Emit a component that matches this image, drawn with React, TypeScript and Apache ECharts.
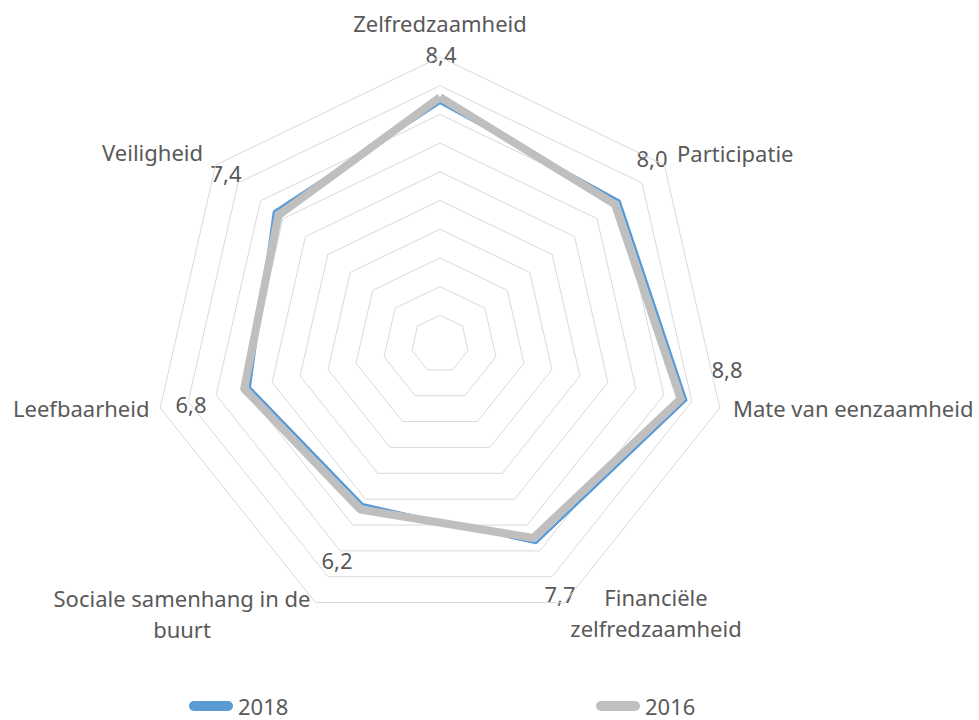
import React, { useEffect, useRef } from 'react';
import * as echarts from 'echarts';

// Categories in clockwise order starting at the top
const categories = [
  'Zelfredzaamheid',
  'Participatie',
  'Mate van eenzaamheid',
  'Financiële\nzelfredzaamheid',
  'Sociale samenhang in de\nbuurt',
  'Leefbaarheid',
  'Veiligheid',
];
const values2018 = [8.4, 8.0, 8.8, 7.7, 6.2, 6.8, 7.4];
const values2016 = [8.6, 7.8, 8.6, 7.5, 6.4, 7.0, 7.2];
const seriesNames = ['2018', '2016'];
const axisMax = 10;

// layout (positions of category names and value labels)
const nameLayout = [
  { x: 440, y: 23, align: 'center' },
  { x: 677, y: 153, align: 'left' },
  { x: 733, y: 408, align: 'left' },
  { x: 656, y: 612, align: 'center' },
  { x: 182, y: 613, align: 'center' },
  { x: 13, y: 408, align: 'left' },
  { x: 203, y: 152, align: 'right' },
];
const valueLayout = [
  { x: 441, y: 54 },
  { x: 652, y: 158 },
  { x: 727, y: 369 },
  { x: 560, y: 594 },
  { x: 337, y: 560 },
  { x: 191, y: 404 },
  { x: 226, y: 173 },
];

const FONT = '"Noto Sans", "Open Sans", sans-serif';
const TEXT = '#595959';
const BLUE = '#5b9bd5';
const GRAY = '#bfbfbf';
const PILL = 'path://M5,0L39,0A5,5,0,0,1,39,10L5,10A5,5,0,0,1,5,0Z';

export default function App() {
  const ref = useRef<HTMLDivElement>(null);
  useEffect(() => {
    const chart = echarts.init(ref.current as HTMLDivElement, null, { renderer: 'svg' });
    // ECharts radar runs counter-clockwise; reorder for clockwise appearance
    const order = [0, 6, 5, 4, 3, 2, 1];
    const reorder = (arr: number[]) => order.map((i) => arr[i]);
    const indicator = order.map((i) => ({ name: categories[i], min: 0, max: axisMax }));

    const texts: any[] = [];
    categories.forEach((c, i) => {
      texts.push({
        type: 'text',
        x: nameLayout[i].x,
        y: nameLayout[i].y,
        style: {
          text: c,
          fill: TEXT,
          font: `22px ${FONT}`,
          textAlign: nameLayout[i].align,
          textVerticalAlign: 'middle',
          lineHeight: 31,
        },
      });
      texts.push({
        type: 'text',
        x: valueLayout[i].x,
        y: valueLayout[i].y,
        style: {
          text: values2018[i].toFixed(1).replace('.', ','),
          fill: TEXT,
          font: `22px ${FONT}`,
          textAlign: 'center',
          textVerticalAlign: 'middle',
        },
      });
    });

    const legendBase = {
      top: 695,
      padding: 0,
      icon: PILL,
      itemWidth: 44,
      itemHeight: 10,
      textStyle: { fontSize: 22, lineHeight: 22, color: TEXT, fontFamily: FONT },
    };

    chart.setOption({
      animation: false,
      backgroundColor: '#ffffff',
      legend: [
        { ...legendBase, data: [seriesNames[0]], left: 189 },
        { ...legendBase, data: [seriesNames[1]], left: 596 },
      ],
      radar: {
        center: [440, 344],
        radius: 287,
        splitNumber: 10,
        shape: 'polygon',
        indicator,
        axisName: { show: false },
        axisLine: { show: false },
        axisTick: { show: false },
        axisLabel: { show: false },
        splitArea: { show: false },
        splitLine: { lineStyle: { color: '#d9d9d9', width: 1 } },
      },
      series: [
        {
          type: 'radar',
          symbol: 'none',
          data: [
            {
              name: seriesNames[0],
              value: reorder(values2018),
              lineStyle: { color: BLUE, width: 2.5, join: 'round' },
              itemStyle: { color: BLUE },
            },
            {
              name: seriesNames[1],
              value: reorder(values2016),
              lineStyle: { color: GRAY, width: 8, join: 'round' },
              itemStyle: { color: GRAY },
            },
          ],
        },
      ],
      graphic: texts,
    });
    return () => chart.dispose();
  }, []);
  return (
    <div
      ref={ref}
      style={{ position: 'fixed', left: 0, top: 0, width: 979, height: 720, background: '#fff' }}
    />
  );
}
